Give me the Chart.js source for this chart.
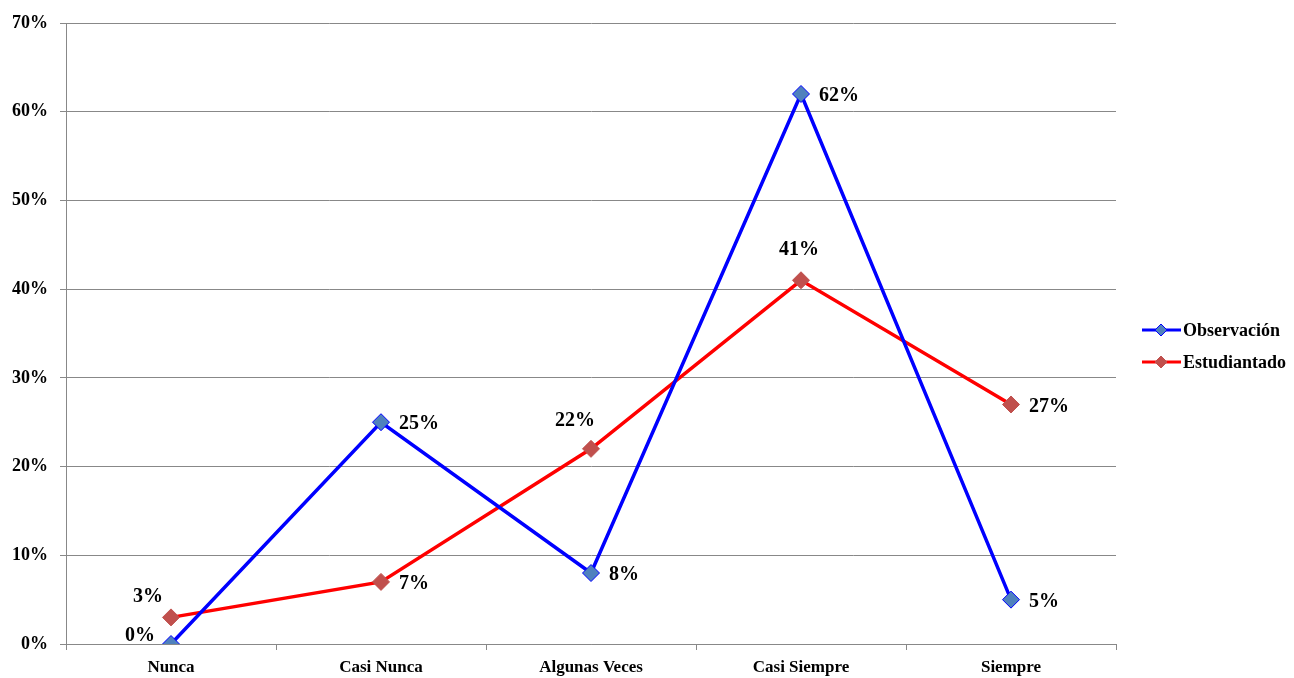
<!DOCTYPE html>
<html><head><meta charset="utf-8">
<script src="https://cdn.jsdelivr.net/npm/chart.js@4"></script>
<style>html,body{margin:0;padding:0;background:#fff}#wrap{width:1294px;height:678px}</style>
</head><body><div id="wrap"><canvas id="c" width="1294" height="678"></canvas></div>
<script>
const categories = ['Nunca', 'Casi Nunca', 'Algunas Veces', 'Casi Siempre', 'Siempre'];
const observacion = [0, 25, 8, 62, 5];
const estudiantado = [3, 7, 22, 41, 27];
const yTicks = [0, 10, 20, 30, 40, 50, 60, 70];

const FONT = '"Liberation Serif", "DejaVu Serif", serif';

const labelPlugin = {
  id: 'labels',
  afterDatasetsDraw(chart) {
    const ctx = chart.ctx;
    ctx.save();
    ctx.font = 'bold 20px ' + FONT;
    ctx.fillStyle = '#000';
    chart.data.datasets.forEach((ds, i) => {
      const meta = chart.getDatasetMeta(i);
      meta.data.forEach((pt, j) => {
        const pos = ds.labelPos[j];
        const txt = ds.data[j] + '%';
        let x = pt.x, y = pt.y;
        if (pos === 'right') { ctx.textAlign = 'left'; ctx.textBaseline = 'middle'; x += 18; y += 2; }
        else if (pos === 'left') { ctx.textAlign = 'right'; ctx.textBaseline = 'middle'; x -= 16; y -= 8; }
        else if (pos === 'above') { ctx.textAlign = 'center'; ctx.textBaseline = 'middle'; y -= 30; x -= 2; }
        else if (pos === 'aboveLeft') { ctx.textAlign = 'center'; ctx.textBaseline = 'middle'; y -= 21; x -= 23; }
        else if (pos === 'aboveLeftS') { ctx.textAlign = 'center'; ctx.textBaseline = 'middle'; y -= 28; x -= 16; }
        ctx.fillText(txt, x, y);
      });
    });
    ctx.restore();
  }
};

const legendPlugin = {
  id: 'customLegend',
  afterDraw(chart) {
    const ctx = chart.ctx;
    ctx.save();
    chart.data.datasets.forEach((ds, i) => {
      const y = 330 + i * 32;
      ctx.strokeStyle = ds.borderColor;
      ctx.lineWidth = 3;
      ctx.beginPath(); ctx.moveTo(1142, y); ctx.lineTo(1181, y); ctx.stroke();
      ctx.fillStyle = ds.pointBackgroundColor;
      ctx.strokeStyle = ds.pointBorderColor;
      ctx.lineWidth = 1;
      ctx.beginPath();
      ctx.moveTo(1161, y - 6); ctx.lineTo(1167, y); ctx.lineTo(1161, y + 6); ctx.lineTo(1155, y); ctx.closePath();
      ctx.fill(); ctx.stroke();
      ctx.fillStyle = '#000';
      ctx.font = 'bold 18px ' + FONT;
      ctx.textAlign = 'left'; ctx.textBaseline = 'middle';
      ctx.fillText(ds.label, 1183, y + 1);
    });
    ctx.restore();
  }
};

new Chart(document.getElementById('c'), {
  type: 'line',
  data: {
    labels: categories,
    datasets: [
      { label: 'Observación', data: observacion, borderColor: '#0000FF', borderWidth: 3.5,
        pointStyle: 'rectRot', pointRadius: 8.5, pointHoverRadius: 8.5,
        pointBackgroundColor: '#4F81BD', pointBorderColor: '#0000FF', pointBorderWidth: 1,
        labelPos: ['left', 'right', 'right', 'right', 'right'], tension: 0 },
      { label: 'Estudiantado', data: estudiantado, borderColor: '#FF0000', borderWidth: 3.5,
        pointStyle: 'rectRot', pointRadius: 8.5, pointHoverRadius: 8.5,
        pointBackgroundColor: '#C0504D', pointBorderColor: '#C0504D', pointBorderWidth: 1,
        labelPos: ['aboveLeft', 'right', 'aboveLeftS', 'above', 'right'], tension: 0 }
    ]
  },
  options: {
    responsive: false,
    animation: false,
    layout: { padding: { left: 0, right: 178, top: 23, bottom: 0 } },
    plugins: { legend: { display: false }, tooltip: { enabled: false } },
    scales: {
      x: {
        offset: true,
        afterFit(axis) { axis.height = 34; },
        grid: { display: true, drawOnChartArea: false, drawTicks: true, tickLength: 6, color: '#888', offset: true },
        border: { display: true, color: '#888', width: 1 },
        ticks: { color: '#000', font: { family: FONT, size: 17, weight: 'bold' }, padding: 7, autoSkip: false, maxRotation: 0 }
      },
      y: {
        min: 0, max: 70,
        afterFit(axis) { axis.width = 66; },
        afterBuildTicks(axis) { axis.ticks = yTicks.map(v => ({ value: v })); },
        grid: { color: '#888', lineWidth: 1, tickLength: 6, drawTicks: true },
        border: { display: true, color: '#888', width: 1 },
        ticks: { color: '#000', font: { family: FONT, size: 18, weight: 'bold' }, padding: 12,
          callback: v => v + '%' }
      }
    }
  },
  plugins: [labelPlugin, legendPlugin]
});
</script>
</body></html>
